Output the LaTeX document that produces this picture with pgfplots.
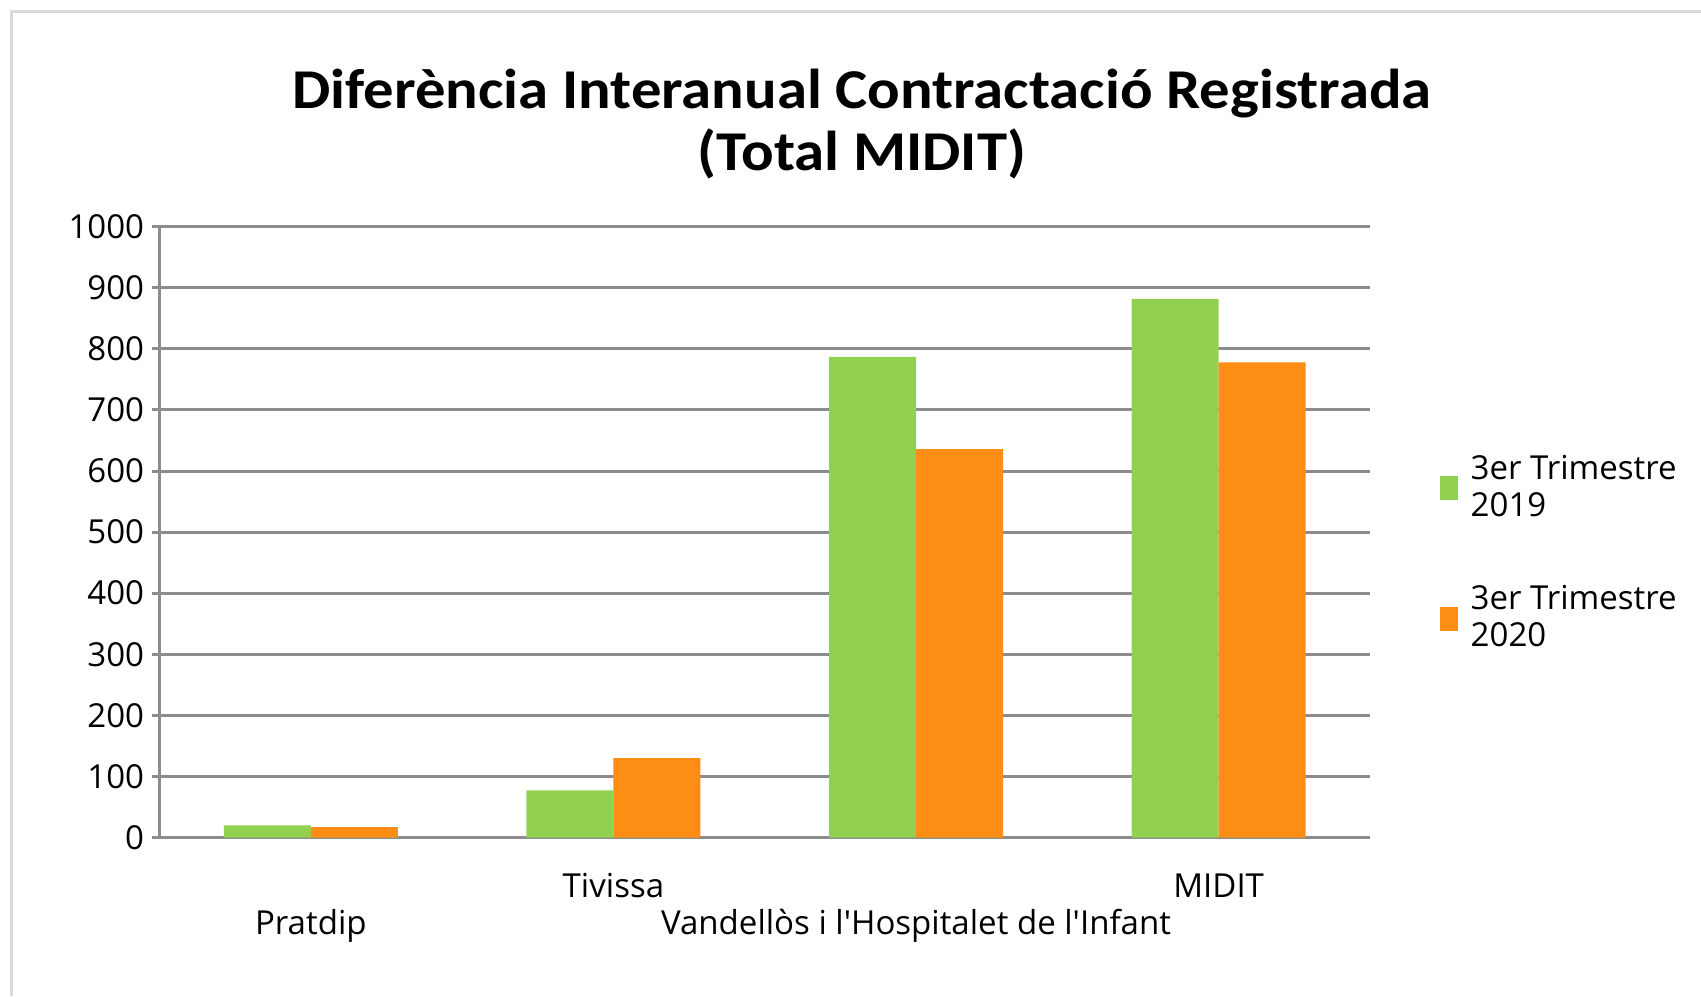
\documentclass[border=0pt]{standalone}
\usepackage{pgfplots}
\pgfplotsset{compat=1.18}
\usepackage{fontspec}
\setmainfont{Open Sans}
\newfontfamily\titlefont{Carlito}
\definecolor{cgreen}{HTML}{92D050}
\definecolor{corange}{HTML}{FD8D14}
\definecolor{cgrid}{HTML}{8C8C8C}
\definecolor{cframe}{HTML}{D9D9D9}
\begin{document}
\begin{tikzpicture}[x=1cm,y=1cm]
\path[use as bounding box] (0,0) rectangle (17.01,9.96);
\draw[cframe, line width=0.03cm] (0.12,0) -- (0.12,9.84) -- (17.01,9.84);
\node[align=center, font=\titlefont\bfseries\fontsize{16}{17.4}\selectfont, xscale=1.08] at (8.62,8.72) {Diferència Interanual Contractació Registrada\\(Total MIDIT)};
\begin{axis}[
  at={(1.595cm,1.585cm)}, anchor=south west,
  scale only axis, width=12.105cm, height=6.108cm,
  ybar=0pt, bar width=0.87cm,
  xmin=-0.5, xmax=3.5, ymin=0, ymax=1000,
  ytick={0,100,...,1000},
  xtick={0,1,2,3},
  xticklabels={{\raisebox{-0.37cm}{Pratdip}},Tivissa,{\raisebox{-0.37cm}{Vandellòs i l\textquotesingle Hospitalet de l\textquotesingle Infant}},MIDIT},
  xticklabel style={anchor=base, yshift=-0.52cm},
  yticklabel style={xshift=0.05cm},
  major x tick style={draw=none},
  axis x line*=bottom, axis y line*=left,
  axis line style={cgrid, line width=0.03cm, -},
  ymajorgrids, grid style={cgrid, line width=0.03cm},
  y tick style={cgrid, line width=0.03cm},
  tick align=outside, major tick length=0.08cm,
  /pgf/number format/assume math mode=true,
  /pgf/number format/1000 sep={},
  ticklabel style={font=\fontsize{9.4}{11}\selectfont},
  legend style={draw=none, at={(1.057,0.465)}, anchor=west, inner sep=0pt,
    font=\fontsize{9.4}{10.5}\selectfont, row sep=0.5cm,
    nodes={align=left, inner xsep=0.13cm}},
  legend cell align=left,
  legend image code/.code={\fill (0cm,-0.12cm) rectangle (0.18cm,0.12cm);},
]
\addplot[fill=cgreen, draw=none] coordinates {(0,20) (1,77) (2,787) (3,882)};
\addplot[fill=corange, draw=none] coordinates {(0,17) (1,130) (2,636) (3,778)};
\legend{3er Trimestre\\2019, 3er Trimestre\\2020}
\end{axis}
\end{tikzpicture}
\end{document}
